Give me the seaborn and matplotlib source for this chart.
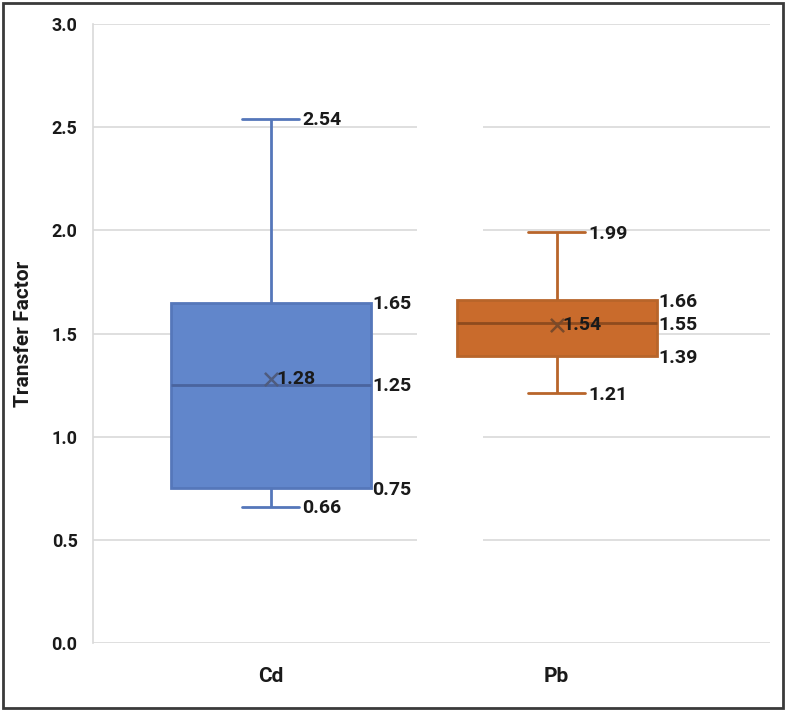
"""
Boite a moustaches du facteur de transfert (Cd, Pb).
"""
import numpy as np
import pandas as pd
import matplotlib
matplotlib.use("Agg")
import matplotlib.pyplot as plt
from matplotlib.patches import Rectangle
import seaborn as sns

# Resume en cinq valeurs : min, Q1, mediane, Q3, max
metals = ["Cd", "Pb"]
cd_summary = [0.66, 0.75, 1.25, 1.65, 2.54]
pb_summary = [1.21, 1.39, 1.55, 1.66, 1.99]
means = [1.28, 1.54]
yticks = [0.0, 0.5, 1.0, 1.5, 2.0, 2.5, 3.0]

fill_colors = ["#6186CB", "#C96B2C"]
edge_colors = ["#5577BA", "#B8652A"]
median_colors = ["#4A649E", "#8E4B1E"]
mean_colors = ["#4F5C7E", "#7A4A2A"]

FONT = ["Roboto", "DejaVu Sans"]
LBL = 14

df = pd.DataFrame({
    "metal": ["Cd"] * len(cd_summary) + ["Pb"] * len(pb_summary),
    "tf": cd_summary + pb_summary,
})

sns.set_theme(style="white")
plt.rcParams["font.family"] = FONT

fig = plt.figure(figsize=(7.87, 7.13), dpi=100)
ax = fig.add_axes([0.118, 0.0982, 0.860, 0.8681])

BOX_W = 0.7
sns.boxplot(data=df, x="metal", y="tf", hue="metal", order=metals,
            hue_order=metals, palette=fill_colors, saturation=1, width=BOX_W,
            whis=np.inf, linewidth=2, legend=False, ax=ax, zorder=3)

# couleurs par boite (contours, moustaches, mediane)
for cont, ec, mc in zip(ax.containers, edge_colors, median_colors):
    for b in cont.boxes:
        b.set_edgecolor(ec)
        b.set_linewidth(2)
    for w in cont.whiskers:
        w.set_color(ec)
        w.set_linewidth(2)
    for c in cont.caps:
        c.set_color(ec)
        c.set_linewidth(2)
        xc = np.mean(c.get_xdata())
        c.set_xdata([xc - 0.1, xc + 0.1])
    for m in cont.medians:
        m.set_color(mc)
        m.set_linewidth(2)

# moyennes
for i, (mval, mcol) in enumerate(zip(means, mean_colors)):
    ax.scatter([i], [mval], marker="x", s=90, color=mcol, linewidths=1.8, zorder=5)
    ax.annotate(f"{mval:.2f}", (i, mval), xytext=(4, 0), textcoords="offset points",
                ha="left", va="center", fontsize=LBL, fontweight="bold",
                color="#1a1a1a", zorder=6)

# etiquettes des valeurs
for i, summ in enumerate([cd_summary, pb_summary]):
    lo, q1, med, q3, hi = summ
    for v in (lo, hi):
        ax.annotate(f"{v:.2f}", (i + 0.1, v), xytext=(2, -1), textcoords="offset points",
                    ha="left", va="center", fontsize=LBL, fontweight="bold", color="#1a1a1a")
    for v in (q1, med, q3):
        ax.annotate(f"{v:.2f}", (i + BOX_W / 2, v), xytext=(1, -1), textcoords="offset points",
                    ha="left", va="center", fontsize=LBL, fontweight="bold", color="#1a1a1a")

# axes
ax.set_xlim(-0.622, 1.745)
ax.set_ylim(0, 3.0)
ax.set_yticks(yticks)
ax.set_yticklabels([f"{t:.1f}" for t in yticks], fontsize=13, fontweight="bold")
ax.set_xticks(range(len(metals)))
ax.set_xticklabels(metals, fontsize=15, fontweight="bold")
ax.tick_params(axis="y", length=0, pad=11, colors="#1a1a1a")
ax.tick_params(axis="x", length=0, pad=17, colors="#1a1a1a")
ax.set_xlabel("")
ax.set_ylabel("Transfer Factor", fontsize=15, fontweight="bold", color="#1a1a1a")
ax.yaxis.set_label_coords(-0.088, 0.5)

ax.grid(axis="y", color="#D9D9D9", linewidth=1.2, zorder=0)
ax.set_axisbelow(True)
# zone blanche entre les deux series (comme dans l'original)
ax.axvspan(0.51, 0.741, ymin=0.13, ymax=0.87, color="white", zorder=1, lw=0)

for side in ["top", "right", "bottom"]:
    ax.spines[side].set_visible(False)
ax.spines["left"].set_color("#D9D9D9")
ax.spines["left"].set_linewidth(1.2)

# cadre du graphique
fig.add_artist(Rectangle((0.0038, 0.007), 0.991, 0.989, transform=fig.transFigure,
                         fill=False, edgecolor="#3a3a3a", linewidth=2))

fig.savefig("out.png", dpi=100)
plt.close(fig)
